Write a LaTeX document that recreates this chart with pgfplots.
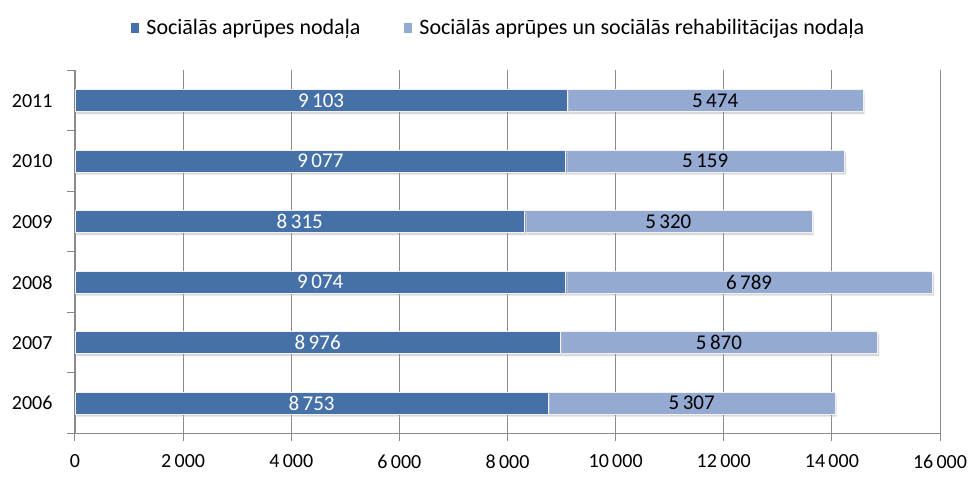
\documentclass[border=0pt]{standalone}
\usepackage{fontspec}
\setmainfont{Carlito}
\usepackage{pgfplots}
\usepackage{pgfplotstable}
\pgfplotsset{compat=1.18}
\usetikzlibrary{shadows}
\definecolor{dark}{HTML}{4571A8}
\definecolor{light}{HTML}{95AAD3}
\definecolor{gridgray}{HTML}{8A8A8A}
\pgfplotstableread{
y a b
0 8753 5307
1 8976 5870
2 9074 6789
3 8315 5320
4 9077 5159
5 9103 5474
}\data
\pgfplotsset{
  common/.style={
    scale only axis,
    width=865bp, height=363bp,
    xmin=0, xmax=16000,
    ymin=-0.5, ymax=5.5,
    /pgf/number format/1000 sep={\,},
    /pgf/number format/assume math mode=true,
  }
}
\begin{document}
\begin{tikzpicture}[font=\fontsize{20bp}{24bp}\selectfont]
\begin{axis}[
  common,
  name=ax,
  xbar stacked,
  bar width=22bp,
  ytick={0,...,5},
  yticklabels={2006,2007,2008,2009,2010,2011},
  minor ytick={-0.5,0.5,...,5.5},
  xtick={0,2000,...,16000},
  axis lines*=left,
  axis line style={gridgray, line width=1bp, -},
  xmajorgrids,
  grid style={gridgray, line width=0.9bp},
  tick align=outside,
  major tick length=8bp,
  minor tick length=8bp,
  major y tick style={draw=none},
  minor y tick style={gridgray, line width=1bp},
  major x tick style={gridgray, line width=1bp},
  xticklabel style={yshift=-10bp},
  yticklabel style={xshift=-11bp},
  scaled x ticks=false,
  legend style={at={(axis description cs:0.49,1)}, anchor=south, yshift=30bp, draw=none, fill=none,
    font=\fontsize{22bp}{26bp}\selectfont,
    legend columns=2,
    /tikz/every odd column/.append style={column sep=5bp},
    /tikz/every even column/.append style={column sep=42bp}},
  legend image code/.code={\fill[#1,draw=none] (0bp,-5bp) rectangle (8bp,5bp);},
]
\addlegendimage{fill=dark}
\addlegendentry{Sociālās aprūpes nodaļa}
\addlegendimage{fill=light}
\addlegendentry{Sociālās aprūpes un sociālās rehabilitācijas nodaļa}
\addplot[forget plot, fill=dark, draw=white!90!gray, line width=0.8bp,
  drop shadow={shadow xshift=1.5bp, shadow yshift=-2.5bp, opacity=0.3}]
  table[x=a, y=y]{\data};
\addplot[forget plot, fill=light, draw=white!90!gray, line width=0.8bp,
  drop shadow={shadow xshift=1.5bp, shadow yshift=-2.5bp, opacity=0.3}]
  table[x=b, y=y]{\data};
\end{axis}
\begin{axis}[
  common,
  hide axis,
  nodes near coords,
  every node near coord/.append style={anchor=center, font=\fontsize{21bp}{24bp}\selectfont},
]
\addplot[draw=none, mark=none, nodes near coords style={white}, point meta=\thisrow{a}]
  table[x expr=\thisrow{a}/2, y=y]{\data};
\addplot[draw=none, mark=none, nodes near coords style={black}, point meta=\thisrow{b}]
  table[x expr=\thisrow{a}+\thisrow{b}/2, y=y]{\data};
\end{axis}
\path ([xshift=-75bp,yshift=-44bp]ax.south west) rectangle ([xshift=32bp,yshift=70.5bp]ax.north east);
\end{tikzpicture}
\end{document}
